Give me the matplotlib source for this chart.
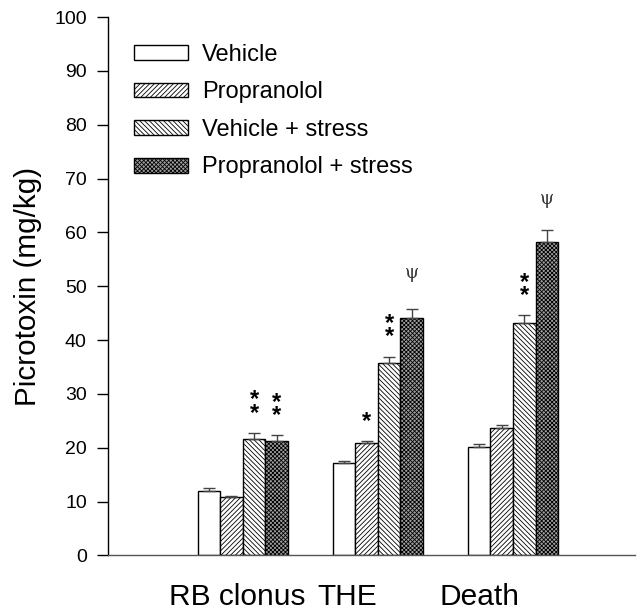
import numpy as np
import matplotlib
matplotlib.use("Agg")
import matplotlib.pyplot as plt

plt.rcParams['font.family'] = ['Liberation Sans', 'DejaVu Sans']
plt.rcParams['hatch.linewidth'] = 0.6

groups = ["RB clonus", "THE", "Death"]
series = ["Vehicle", "Propranolol", "Vehicle + stress", "Propranolol + stress"]
values = [
    [12.0, 17.1, 20.2],   # Vehicle
    [10.9, 20.9, 23.6],   # Propranolol
    [21.6, 35.7, 43.2],   # Vehicle + stress
    [21.3, 44.1, 58.3],   # Propranolol + stress
]
errors = [
    [0.6, 0.4, 0.5],
    [0.2, 0.3, 0.6],
    [1.1, 1.2, 1.4],
    [1.0, 1.6, 2.2],
]
# significance marks: (series index, group index, text)
marks = [
    (2, 0, "*\n*"), (3, 0, "*\n*"),
    (1, 1, "*"), (2, 1, "*\n*"), (3, 1, "\u03c8"),
    (2, 2, "*\n*"), (3, 2, "\u03c8"),
]

faces = ["white", "white", "white", "#a0a0a0"]
hatches = [None, "///////", "\\\\\\\\\\\\\\", "xxxxxxxx"]

fig = plt.figure(figsize=(6.37, 6.11), dpi=100)
ax = fig.add_axes([0.169, 0.091, 0.828, 0.881])

x = np.arange(1, len(groups) + 1)
w = 0.167
for i, name in enumerate(series):
    xs = x + (i - 1.5) * w
    ax.bar(xs, values[i], width=w, color=faces[i], edgecolor="black",
           hatch=hatches[i], linewidth=1.0, label=name, zorder=2)
    ax.errorbar(xs, values[i], yerr=[np.zeros(len(groups)), errors[i]],
                fmt="none", ecolor="#444444", elinewidth=1.0, capsize=4,
                capthick=1.0, zorder=3)

for si, gi, txt in marks:
    top = values[si][gi] + errors[si][gi]
    xs = x[gi] + (si - 1.5) * w
    if txt == "\u03c8":
        ax.text(xs, top + (5.0 if gi == 1 else 4.0), txt, ha="center", va="bottom",
                fontsize=13, family="DejaVu Serif", color="#333333")
    else:
        ax.text(xs, top + 1.6, txt, ha="center", va="bottom", fontsize=17,
                fontweight="bold", linespacing=0.45)

ax.set_ylim(0, 100)
ax.set_xlim(0, 3.904)
ax.set_yticks(np.arange(0, 101, 10))
ax.tick_params(axis="y", direction="out", length=8, width=1, labelsize=14, pad=7)
ax.set_xticks([0.956, 1.77, 2.756])
ax.set_xticklabels(groups, fontsize=21.5)
ax.tick_params(axis="x", length=0, pad=20)
ax.set_ylabel("Picrotoxin (mg/kg)", fontsize=21.3)
ax.yaxis.set_label_coords(-0.124, 0.5)

for s in ["top", "right"]:
    ax.spines[s].set_visible(False)
ax.spines["left"].set_linewidth(1.0)
ax.spines["bottom"].set_linewidth(1.0)
ax.spines["bottom"].set_color("#555555")

ax.legend(loc="upper left", bbox_to_anchor=(0.009, 0.99), frameon=False,
          fontsize=17, handlelength=2.3, handleheight=0.6,
          labelspacing=0.66, handletextpad=0.6)

fig.savefig("out.png", dpi=100)
